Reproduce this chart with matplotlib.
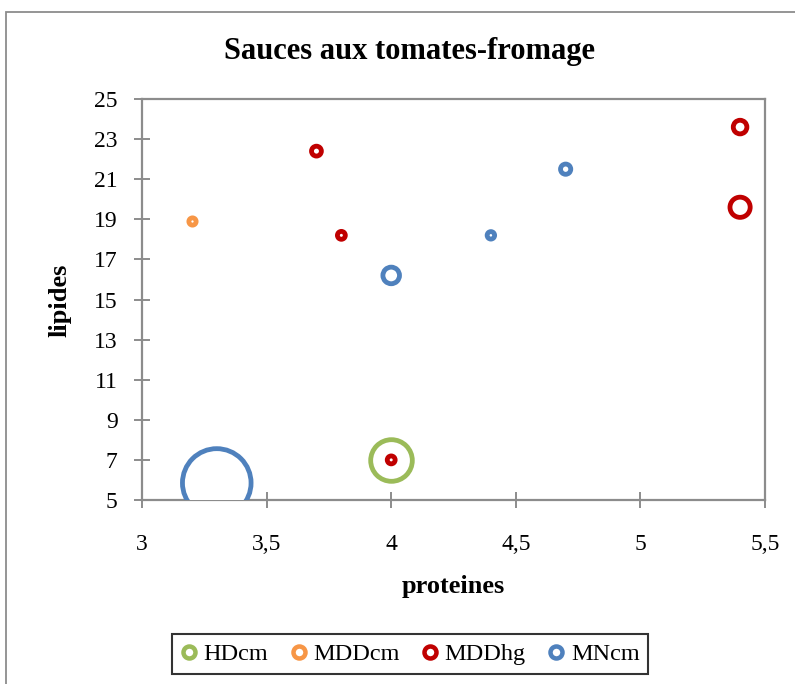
import numpy as np
import matplotlib
matplotlib.use("Agg")
import matplotlib.pyplot as plt
from matplotlib.lines import Line2D
from matplotlib.patches import Rectangle
from matplotlib.ticker import FuncFormatter

plt.rcParams['font.family'] = ['Liberation Serif', 'DejaVu Serif']

# series: proteines (x), lipides (y), bubble size (relative area)
series = ['HDcm', 'MDDcm', 'MDDhg', 'MNcm']
colors = ['#9BBB59', '#F79646', '#C00000', '#4F81BD']

hd_x = [4.0]
hd_y = [7.0]
hd_size = [40]

mddcm_x = [3.2]
mddcm_y = [18.9]
mddcm_size = [2.7]

mddhg_x = [3.7, 3.8, 4.0, 5.4, 5.4]
mddhg_y = [22.4, 18.2, 7.0, 23.6, 19.6]
mddhg_size = [4.0, 3.0, 3.0, 6.3, 11.6]

mn_x = [4.7, 4.4, 4.0, 3.3]
mn_y = [21.5, 18.2, 16.2, 5.85]
mn_size = [4.2, 2.8, 8.5, 100]

data = [(hd_x, hd_y, hd_size), (mddcm_x, mddcm_y, mddcm_size),
        (mddhg_x, mddhg_y, mddhg_size), (mn_x, mn_y, mn_size)]

W, H, DPI = 795, 684, 100
fig = plt.figure(figsize=(W / DPI, H / DPI), dpi=DPI)
px = 72.0 / DPI  # points per pixel

# outer chart frame
fig.patches.append(Rectangle((6 / W, -0.1), 1.0, 1 - 12 / H + 0.1, transform=fig.transFigure,
                             fill=False, edgecolor='#8c8c8c', linewidth=1.3))

ax = fig.add_axes([142 / W, 1 - 500 / H, (765 - 142) / W, (500 - 99) / H])

ring_lw = 4.8  # px
max_r = 36.7   # px outer radius for largest bubble
for (xs, ys, ss), c in zip(data, colors):
    ss = np.array(ss, dtype=float)
    r_out = max_r * np.sqrt(ss / 100.0)
    r_path = np.maximum(r_out - ring_lw / 2, 0.5)
    s = (2 * r_path * px) ** 2
    ax.scatter(xs, ys, s=s, facecolors='white', edgecolors=c,
               linewidths=ring_lw * px, zorder=3)

ax.set_xlim(3, 5.5)
ax.set_ylim(5, 25)
ax.set_xticks(np.arange(3, 5.51, 0.5))
ax.set_yticks(np.arange(5, 25.1, 2))
fmt = FuncFormatter(lambda v, p: ('%g' % v).replace('.', ','))
ax.xaxis.set_major_formatter(fmt)
ax.yaxis.set_major_formatter(fmt)

for sp in ax.spines.values():
    sp.set_color('#8c8c8c')
    sp.set_linewidth(1.6)
ax.tick_params(axis='both', direction='inout', length=11, width=1.4, color='#8c8c8c',
               labelsize=17, labelcolor='black')
ax.tick_params(axis='x', pad=19)
ax.tick_params(axis='y', pad=12)

fig.text(409 / W, 1 - 51 / H, 'Sauces aux tomates-fromage', ha='center', va='center',
         fontsize=22, fontweight='bold')
fig.text(453 / W, 1 - 587 / H, 'proteines', ha='center', va='center',
         fontsize=19, fontweight='bold')
fig.text(60 / W, 1 - 300 / H, 'lipides', ha='center', va='center', rotation=90,
         fontsize=19, fontweight='bold')

handles = [Line2D([], [], linestyle='none', marker='o', markersize=12 * px,
                  markerfacecolor='white', markeredgecolor=c, markeredgewidth=4.5 * px)
           for c in colors]
leg = fig.legend(handles, series, loc='center', bbox_to_anchor=(410 / W, 1 - 654 / H),
                 ncol=4, fontsize=17.5, frameon=True, fancybox=False, handlelength=0.7,
                 handletextpad=0.25, columnspacing=0.9, borderpad=0.35, borderaxespad=0)
leg.get_frame().set_edgecolor('black')
leg.get_frame().set_linewidth(1.5)

fig.savefig('out.png', dpi=DPI)
